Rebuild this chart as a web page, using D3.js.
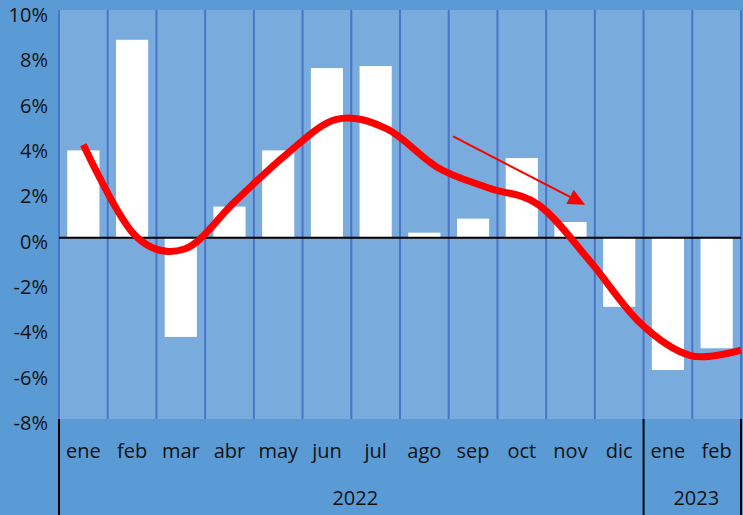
<!DOCTYPE html>
<html>
<head>
<meta charset="utf-8">
<script src="https://cdn.jsdelivr.net/npm/d3@7"></script>
<style>
  body { margin: 0; background: #5b9bd5; }
  svg { display: block; }
  text { font-family: "Open Sans", sans-serif; fill: #111; }
</style>
</head>
<body>
<div class="chart"></div>
<script>
const months = ["ene", "feb", "mar", "abr", "may", "jun", "jul", "ago", "sep", "oct", "nov", "dic", "ene", "feb"];
const years = ["2022", "2022", "2022", "2022", "2022", "2022", "2022", "2022", "2022", "2022", "2022", "2022", "2023", "2023"];
const values = [3.85, 8.73, -4.38, 1.37, 3.85, 7.48, 7.57, 0.22, 0.84, 3.51, 0.69, -3.05, -5.84, -4.88];
// smoothed trend, sampled evenly from first month to right edge
const trend = [4.1, 0.15, -0.5, 1.6, 3.65, 5.22, 4.8, 3.1, 2.2, 1.45, -1.0, -3.75, -5.2, -4.96];
const yTicks = [-8, -6, -4, -2, 0, 2, 4, 6, 8, 10];
// arrow annotation, in month-index / percent units
const arrowFrom = [8.09, 4.47];
const arrowTo = [10.8, 1.45];

const W = 743, H = 515;
const margin = { top: 11, left: 59, right: 2, bottom: 96 };
const width = W - margin.left - margin.right;
const height = H - margin.top - margin.bottom;

const svg = d3.select(".chart")
  .append("svg")
  .attr("width", W)
  .attr("height", H);

svg.append("rect")
  .attr("width", W).attr("height", H)
  .attr("fill", "#5b9bd5");

const g = svg.append("g")
  .attr("transform", `translate(${margin.left}, ${margin.top})`);

const keys = months.map((m, i) => i);

const xScale = d3.scaleBand()
  .domain(keys)
  .range([0, width])
  .padding(0);

const yScale = d3.scaleLinear()
  .domain([-8, 10])
  .range([height, 0]);

const idxScale = d3.scaleLinear().domain([0, months.length]).range([0, width]);

// plot area
g.append("rect")
  .attr("x", 0).attr("y", -1)
  .attr("width", width).attr("height", height + 1)
  .attr("fill", "#79acdc");

// vertical gridlines at category edges
const edges = keys.map(k => xScale(k)).concat([width]);
g.selectAll(".grid")
  .data(edges)
  .enter()
  .append("line")
  .attr("class", "grid")
  .attr("x1", d => d).attr("x2", d => d)
  .attr("y1", -1).attr("y2", height)
  .attr("stroke", "#4a74c8")
  .attr("stroke-width", 2);

// bars
const barW = xScale.bandwidth() * 0.66;
g.selectAll(".bar")
  .data(values)
  .enter()
  .append("rect")
  .attr("class", "bar")
  .attr("fill", "#ffffff")
  .attr("x", (d, i) => xScale(i) + (xScale.bandwidth() - barW) / 2)
  .attr("width", barW)
  .attr("y", d => yScale(Math.max(0, d)))
  .attr("height", d => Math.abs(yScale(d) - yScale(0)));

// zero line
g.append("line")
  .attr("x1", 0).attr("x2", width)
  .attr("y1", yScale(0)).attr("y2", yScale(0))
  .attr("stroke", "#000")
  .attr("stroke-width", 2);

// trend line
const trendX = d3.scalePoint()
  .domain(d3.range(trend.length))
  .range([xScale(0) + xScale.bandwidth() / 2, width]);

const line = d3.line()
  .x((d, i) => trendX(i))
  .y(d => yScale(d))
  .curve(d3.curveCatmullRom.alpha(0));

g.append("path")
  .datum(trend)
  .attr("d", line)
  .attr("fill", "none")
  .attr("stroke", "#ff0000")
  .attr("stroke-width", 7)
  .attr("stroke-linecap", "butt");

// arrow
const ax1 = idxScale(arrowFrom[0]), ay1 = yScale(arrowFrom[1]);
const ax2 = idxScale(arrowTo[0]), ay2 = yScale(arrowTo[1]);
const ang = Math.atan2(ay2 - ay1, ax2 - ax1);
const headLen = 17, headHalf = 8;
const bx = ax2 - headLen * Math.cos(ang), by = ay2 - headLen * Math.sin(ang);
g.append("line")
  .attr("x1", ax1).attr("y1", ay1)
  .attr("x2", bx).attr("y2", by)
  .attr("stroke", "#ff0000")
  .attr("stroke-width", 2);
g.append("path")
  .attr("d", `M${ax2},${ay2}L${bx + headHalf * Math.sin(ang)},${by - headHalf * Math.cos(ang)}L${bx - headHalf * Math.sin(ang)},${by + headHalf * Math.cos(ang)}Z`)
  .attr("fill", "#ff0000");

// y axis labels
g.selectAll(".ylab")
  .data(yTicks)
  .enter()
  .append("text")
  .attr("class", "ylab")
  .attr("x", -11)
  .attr("y", d => yScale(d) + 11)
  .attr("text-anchor", "end")
  .attr("font-size", "20px")
  .text(d => d + "%");

// month labels
g.selectAll(".mlab")
  .data(months)
  .enter()
  .append("text")
  .attr("class", "mlab")
  .attr("x", (d, i) => xScale(i) + xScale.bandwidth() / 2)
  .attr("y", height + 39)
  .attr("text-anchor", "middle")
  .attr("font-size", "20px")
  .text(d => d);

// year groups
const yearGroups = d3.groups(keys, i => years[i]);
yearGroups.forEach(([yr, idx]) => {
  const x0 = xScale(idx[0]);
  const x1 = xScale(idx[idx.length - 1]) + xScale.bandwidth();
  g.append("text")
    .attr("x", (x0 + x1) / 2 + 4)
    .attr("y", height + 86)
    .attr("text-anchor", "middle")
    .attr("font-size", "20px")
    .text(yr);
});

const seps = [0].concat(yearGroups.map(([yr, idx]) => xScale(idx[idx.length - 1]) + xScale.bandwidth()));
g.selectAll(".sep")
  .data(seps)
  .enter()
  .append("line")
  .attr("class", "sep")
  .attr("x1", d => d).attr("x2", d => d)
  .attr("y1", height).attr("y2", H - margin.top)
  .attr("stroke", "#000")
  .attr("stroke-width", 2);
</script>
</body>
</html>
